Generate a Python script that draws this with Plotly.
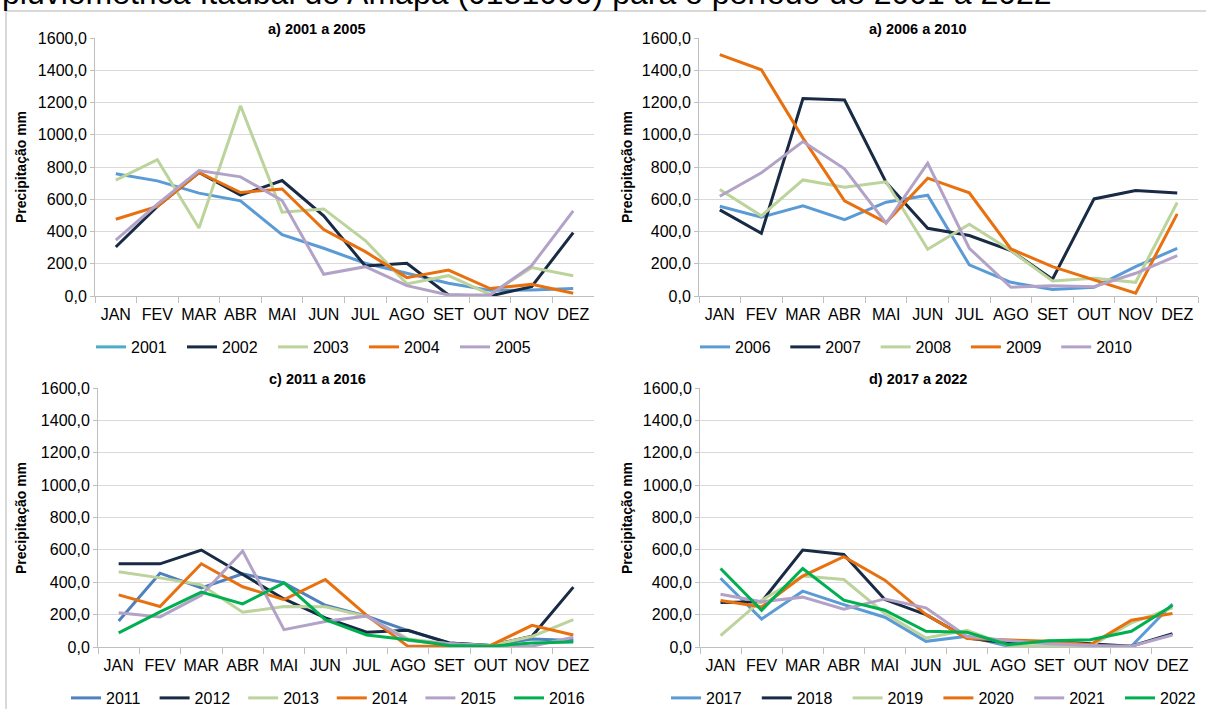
import plotly.graph_objects as go

W, H = 1206, 709

months = ["JAN", "FEV", "MAR", "ABR", "MAI", "JUN", "JUL", "AGO", "SET", "OUT", "NOV", "DEZ"]

# ---- Panel a) 2001 a 2005 ----
years_a = ["2001", "2002", "2003", "2004", "2005"]
p2001 = [758, 714, 638, 590, 380, 296, 203, 141, 79, 35, 37, 47]
p2002 = [304, 556, 766, 625, 716, 497, 186, 203, 6, 0, 58, 393]
p2003 = [718, 845, 422, 1180, 520, 540, 344, 75, 126, 10, 176, 126]
p2004 = [476, 555, 766, 642, 664, 412, 275, 114, 161, 46, 72, 17]
p2005 = [346, 569, 778, 739, 592, 135, 182, 64, 6, 6, 188, 528]

# ---- Panel a) 2006 a 2010 ----
years_b = ["2006", "2007", "2008", "2009", "2010"]
p2006 = [557, 489, 559, 474, 582, 625, 193, 85, 41, 54, 182, 296]
p2007 = [534, 389, 1225, 1215, 704, 420, 375, 282, 104, 602, 654, 638]
p2008 = [660, 497, 720, 675, 708, 290, 445, 282, 93, 110, 85, 580]
p2009 = [1497, 1403, 979, 590, 455, 731, 640, 292, 182, 100, 17, 509]
p2010 = [619, 764, 958, 789, 451, 824, 296, 54, 64, 58, 141, 250]

# ---- Panel c) 2011 a 2016 ----
years_c = ["2011", "2012", "2013", "2014", "2015", "2016"]
p2011 = [161, 456, 365, 452, 396, 258, 190, 101, 25, 10, 50, 40]
p2012 = [514, 514, 599, 448, 297, 180, 91, 103, 25, 10, 66, 370]
p2013 = [465, 427, 384, 215, 250, 248, 188, 50, 20, 10, 65, 169]
p2014 = [322, 250, 514, 372, 293, 417, 196, 4, 5, 10, 134, 74]
p2015 = [211, 186, 320, 593, 107, 157, 192, 40, 20, 5, 5, 60]
p2016 = [87, 217, 339, 266, 396, 169, 74, 45, 10, 5, 25, 31]

# ---- Panel d) 2017 a 2022 ----
years_d = ["2017", "2018", "2019", "2020", "2021", "2022"]
p2017 = [425, 173, 345, 262, 184, 35, 66, 5, 5, 5, 5, 266]
p2018 = [275, 280, 599, 572, 293, 200, 56, 25, 35, 21, 5, 83]
p2019 = [70, 289, 438, 417, 207, 56, 103, 10, 5, 5, 149, 242]
p2020 = [287, 248, 438, 558, 413, 200, 52, 45, 35, 14, 165, 207]
p2021 = [326, 279, 308, 233, 297, 242, 65, 40, 20, 10, 5, 74]
p2022 = [485, 227, 485, 289, 227, 97, 91, 14, 39, 45, 97, 256]

titles = ["a) 2001 a 2005", "a) 2006 a 2010", "c) 2011 a 2016", "d) 2017 a 2022"]
main_title = "pluviométrica Itaubal do Amapá (0151000) para o período de 2001 a 2022"
y_title = "Precipitação mm"

BLUE = "#5B9BD5"
TEAL = "#4BACC6"
NAVY = "#182A44"
LGREEN = "#BCD39C"
ORANGE = "#E8700E"
LAV = "#B3A2C7"
GREEN = "#00B050"
STEEL = "#4F81BD"

panels = [
    dict(years=years_a, data=[p2001, p2002, p2003, p2004, p2005],
         colors=[BLUE, NAVY, LGREEN, ORANGE, LAV], legcolors=[TEAL, NAVY, LGREEN, ORANGE, LAV],
         px=(95, 594), py=(38, 296)),
    dict(years=years_b, data=[p2006, p2007, p2008, p2009, p2010],
         colors=[BLUE, NAVY, LGREEN, ORANGE, LAV], legcolors=None,
         px=(699, 1198), py=(38, 296)),
    dict(years=years_c, data=[p2011, p2012, p2013, p2014, p2015, p2016],
         colors=[STEEL, NAVY, LGREEN, ORANGE, LAV, GREEN], legcolors=None,
         px=(98, 594), py=(388, 647)),
    dict(years=years_d, data=[p2017, p2018, p2019, p2020, p2021, p2022],
         colors=[BLUE, NAVY, LGREEN, ORANGE, LAV, GREEN], legcolors=None,
         px=(700, 1193), py=(388, 647)),
]

def fx(px):
    return px / W

def fy(py):
    return 1 - py / H

SANS = "Liberation Sans, Arial, sans-serif"
TICKFONT = dict(family=SANS, size=16, color="#000000")

fig = go.Figure()
layout = dict(
    width=W, height=H, margin=dict(l=0, r=0, t=0, b=0, autoexpand=False),
    paper_bgcolor="white", plot_bgcolor="white",
    separators=",.", showlegend=True,
)

legend_pos = [
    dict(x=91, y=347, ew=46),
    dict(x=695, y=347, ew=45.3),
    dict(x=66, y=698, ew=43.6),
    dict(x=666, y=698, ew=45.8),
]

annotations = []
for i, pn in enumerate(panels):
    k = i + 1
    xa = "x" if k == 1 else f"x{k}"
    ya = "y" if k == 1 else f"y{k}"
    lg = "legend" if k == 1 else f"legend{k}"
    for j, (yr, vals, col) in enumerate(zip(pn["years"], pn["data"], pn["colors"])):
        legc = pn["legcolors"][j] if pn["legcolors"] else col
        same = legc == col
        fig.add_trace(go.Scatter(
            x=months, y=vals, name=yr, mode="lines",
            line=dict(color=col, width=3),
            xaxis=xa, yaxis=ya, legend=lg, showlegend=same,
            hoverinfo="skip",
        ))
        if not same:
            fig.add_trace(go.Scatter(
                x=[None], y=[None], name=yr, mode="lines",
                line=dict(color=legc, width=3),
                xaxis=xa, yaxis=ya, legend=lg, showlegend=True,
                legendrank=j, hoverinfo="skip",
            ))
    xname = "xaxis" if k == 1 else f"xaxis{k}"
    yname = "yaxis" if k == 1 else f"yaxis{k}"
    layout[xname] = dict(
        domain=[fx(pn["px"][0]), fx(pn["px"][1])], anchor=ya,
        type="category", categoryorder="array", categoryarray=months,
        range=[-0.5, 11.5], tickson="boundaries", ticks="outside", ticklen=6,
        tickcolor="#BFBFBF", showline=True, linecolor="#BFBFBF", linewidth=1,
        showgrid=False, tickfont=TICKFONT, tickangle=0, ticklabelstandoff=4,
        fixedrange=True,
    )
    layout[yname] = dict(
        domain=[fy(pn["py"][1]), fy(pn["py"][0])], anchor=xa,
        range=[0, 1600], dtick=200, tickformat=".1f",
        showgrid=True, gridcolor="#D9D9D9", gridwidth=1,
        showline=True, linecolor="#BFBFBF", linewidth=1,
        ticks="outside", ticklen=4, tickcolor="#BFBFBF",
        zeroline=False, tickfont=TICKFONT, fixedrange=True,
    )
    lp = legend_pos[i]
    layout[lg] = dict(
        orientation="h", x=fx(lp["x"]), y=fy(lp["y"]), xanchor="left", yanchor="middle",
        font=dict(family=SANS, size=16, color="#000000"),
        entrywidth=lp["ew"], entrywidthmode="pixels", bgcolor="rgba(0,0,0,0)",
        itemclick=False, itemdoubleclick=False, tracegroupgap=0,
    )
    # panel title
    cx = 317 if i % 2 == 0 else 918
    ty = 29 if i < 2 else 379
    annotations.append(dict(
        text=f"<b>{titles[i]}</b>", x=fx(cx), y=fy(ty), xref="paper", yref="paper",
        xanchor="center", yanchor="middle", showarrow=False,
        font=dict(family=SANS, size=14.5, color="#000000"),
    ))
    # y axis title
    ax = 21 if i % 2 == 0 else 627
    ay = 167 if i < 2 else 518
    annotations.append(dict(
        text=f"<b>{y_title}</b>", x=fx(ax), y=fy(ay), xref="paper", yref="paper",
        xanchor="center", yanchor="middle", showarrow=False, textangle=-90,
        font=dict(family=SANS, size=14, color="#000000"),
    ))

annotations.append(dict(
    text=main_title, x=0, y=fy(13), xref="paper", yref="paper",
    xanchor="left", yanchor="bottom", showarrow=False,
    font=dict(family=SANS, size=32, color="#000000"),
))
layout["annotations"] = annotations
layout["shapes"] = [
    dict(type="line", xref="paper", yref="paper", x0=fx(6), x1=1, y0=fy(11), y1=fy(11),
         line=dict(color="#D9D9D9", width=2)),
    dict(type="line", xref="paper", yref="paper", x0=fx(6), x1=fx(6), y0=0, y1=fy(11),
         line=dict(color="#D9D9D9", width=2)),
]

fig.update_layout(**layout)
fig.write_html("out.html")
